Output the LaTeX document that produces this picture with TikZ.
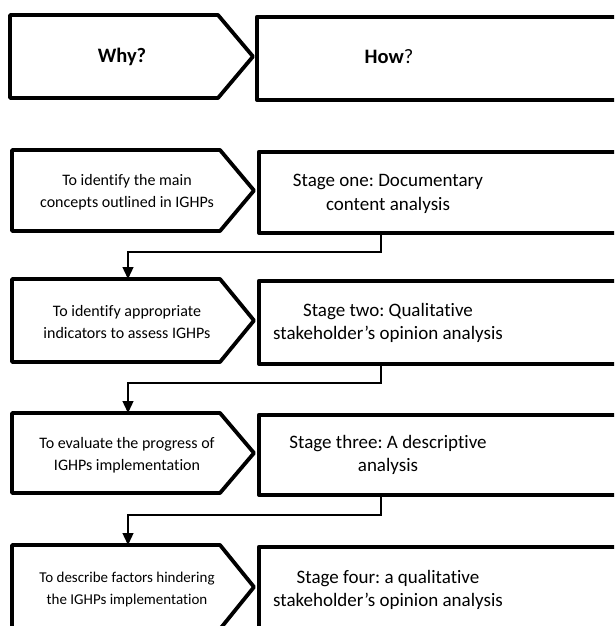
\documentclass[tikz,border=0pt]{standalone}
\usepackage{fontspec}
\setmainfont{Carlito}[Ligatures={NoCommon}]
\usetikzlibrary{arrows.meta}
\tikzset{
  boxline/.style={line width=3.8pt, line join=round, line cap=round},
  rbox/.style={boxline, draw, rectangle, anchor=north west, inner sep=0pt, minimum width=400pt},
  ltext/.style={align=center, font=\fontsize{16}{22}\selectfont, inner sep=0pt},
  rtext/.style={align=center, font=\fontsize{19}{23.5}\selectfont, inner sep=0pt},
  htext/.style={align=center, font=\fontsize{20.5}{24}\selectfont, inner sep=0pt},
  conn/.style={line width=1.3pt, -{Triangle[length=12pt,width=11pt]}}
}
\frenchspacing
\begin{document}
\begin{tikzpicture}[x=1pt,y=-1pt]
\path[use as bounding box, clip] (0,0) rectangle (614,626);
% pentagon helper: left x0, straight end xa, point xp, top t, bottom b
\newcommand\pent[5]{\draw[boxline] (#1,#4) -- (#2,#4) -- (#3,{(#4+#5)/2}) -- (#2,#5) -- (#1,#5) -- cycle;}
% header
\pent{10}{218}{253}{15}{98}
\node[rbox, minimum height=83pt] (hr) at (255,15) {};
\node[htext] (hl) at (122,57) {\textbf{Why?}};
\node[htext] (hrt) at (389,57) {\textbf{How}?};
% row 1
\pent{12}{220}{254}{150}{231}
\node[rbox, minimum height=81pt] (r1) at (257,150) {};
\node[ltext] (l1t) at (127,192) {To identify the main\\concepts outlined in IGHPs};
\node[rtext] (r1t) at (388,194) {Stage one: Documentary\\content analysis};
% row 2
\pent{12}{220}{254}{279}{362}
\node[rbox, minimum height=83pt] (r2) at (257,279) {};
\node[ltext] (l2t) at (127,322) {To identify appropriate\\indicators to assess IGHPs};
\node[rtext] (r2t) at (388,323) {Stage two: Qualitative\\stakeholder’s opinion analysis};
% row 3
\pent{12}{220}{254}{413}{493}
\node[rbox, minimum height=80pt] (r3) at (257,413) {};
\node[ltext] (l3t) at (127,455) {To evaluate the progress of\\IGHPs implementation};
\node[rtext] (r3t) at (388,455) {Stage three: A descriptive\\analysis};
% row 4
\pent{12}{220}{254}{545}{629}
\node[rbox, minimum height=84pt] (r4) at (257,545) {};
\node[ltext, font=\fontsize{15}{22}\selectfont] (l4t) at (127,589) {To describe factors hindering\\the IGHPs implementation};
\node[rtext] (r4t) at (388,590) {Stage four: a qualitative\\stakeholder’s opinion analysis};
% connector targets
\coordinate (t2) at (128,279);
\coordinate (t3) at (128,413);
\coordinate (t4) at (128,545);
\draw[conn] (r1.south -| 381,0) |- (128,252) -- (t2);
\draw[conn] (r2.south -| 381,0) |- (128,383) -- (t3);
\draw[conn] (r3.south -| 381,0) |- (128,515) -- (t4);
\end{tikzpicture}
\end{document}
